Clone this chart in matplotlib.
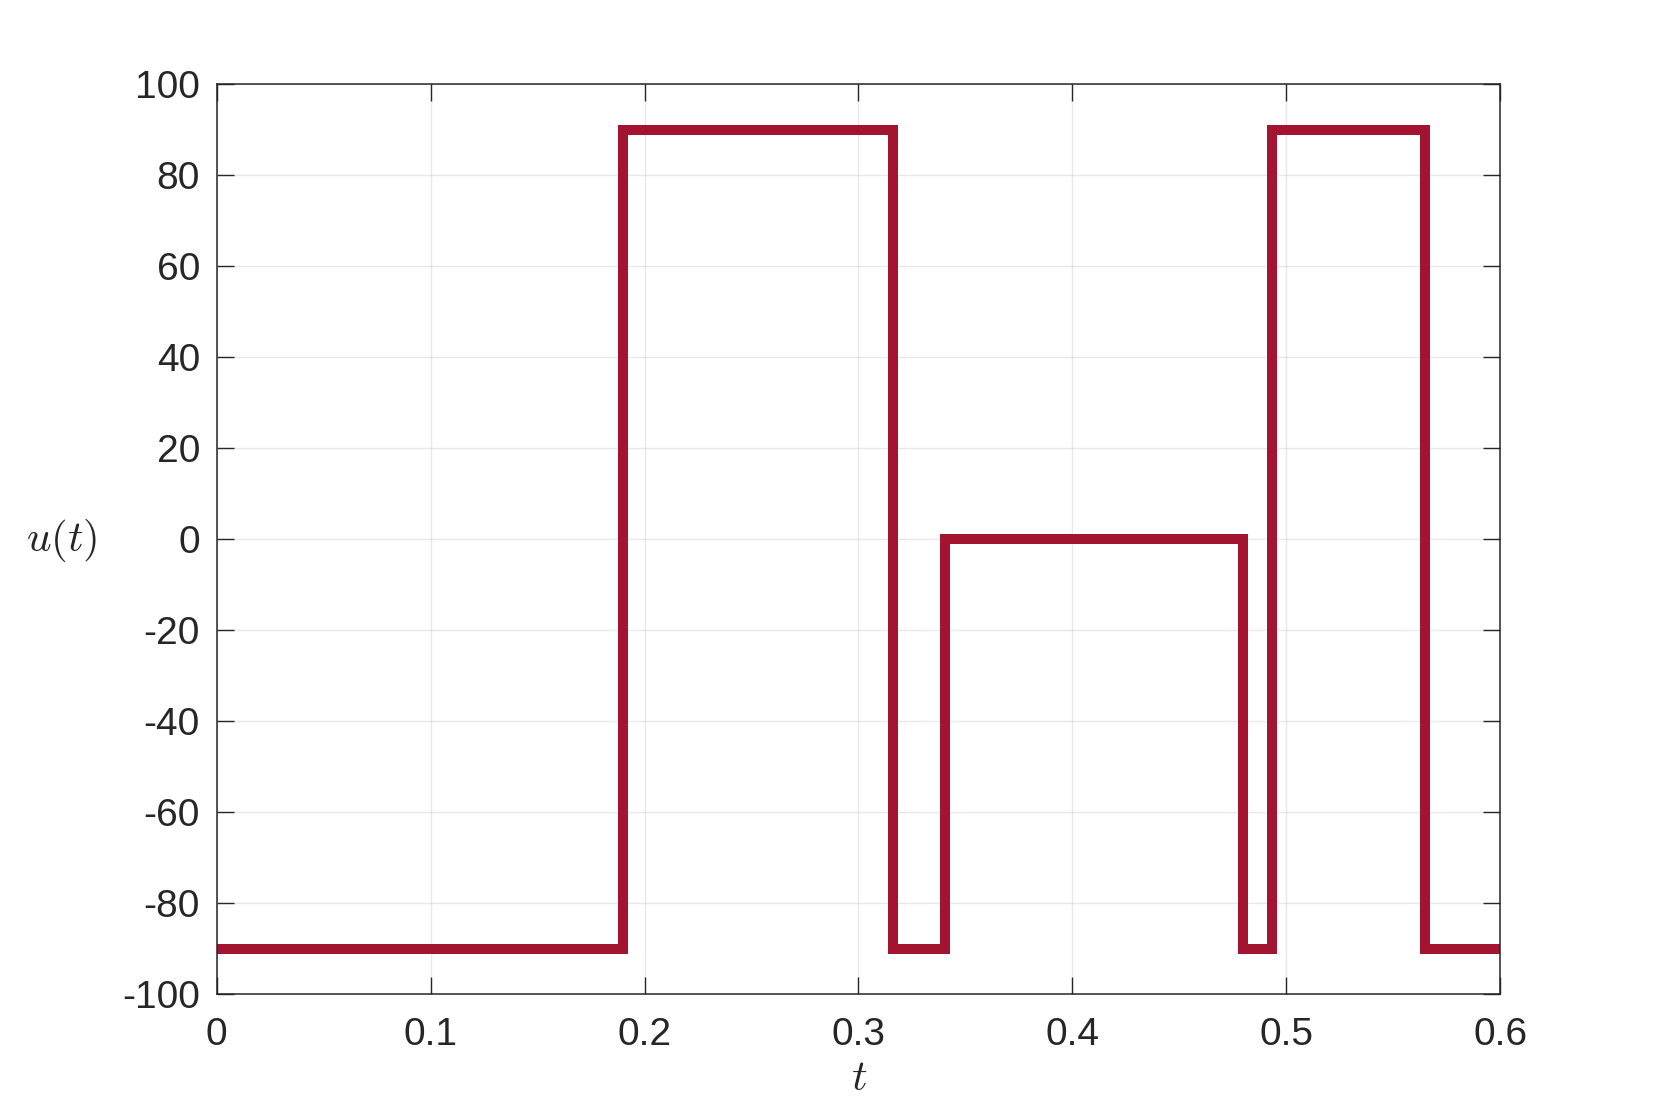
import numpy as np
import matplotlib.pyplot as plt

# switching times of the control signal and the level held between them
switch_times = [0.0, 0.1901, 0.3160, 0.3406, 0.4799, 0.4934, 0.5647, 0.6]
u_levels = [-90, 90, -90, 0, -90, 90, -90]

x_ticks = [0, 0.1, 0.2, 0.3, 0.4, 0.5, 0.6]
x_tick_labels = ['0', '0.1', '0.2', '0.3', '0.4', '0.5', '0.6']
y_ticks = list(range(-100, 101, 20))

plt.rcParams['font.family'] = ['Liberation Sans', 'DejaVu Sans']
plt.rcParams['mathtext.fontset'] = 'cm'
plt.rcParams['axes.unicode_minus'] = False

fig = plt.figure(figsize=(16.59, 11.19), dpi=100)
ax = fig.add_axes([0.1306, 0.1114, 0.7737, 0.8132])

ax.stairs(u_levels, switch_times, color='#A2142F', linewidth=7.2, baseline=None)

ax.set_xlim(0, 0.6)
ax.set_ylim(-100, 100)
ax.set_xticks(x_ticks)
ax.set_xticklabels(x_tick_labels)
ax.set_yticks(y_ticks)

# MATLAB-like look: box on, ticks inside, faint grid
ax.grid(True, color='#262626', alpha=0.1, linewidth=1.0)
ax.set_axisbelow(True)
ax.tick_params(direction='in', length=12, width=1.0, colors='#262626',
               labelsize=28, top=True, right=True)
ax.tick_params(axis='x', pad=16)
ax.tick_params(axis='y', pad=12)
for sp in ax.spines.values():
    sp.set_color('#262626')
    sp.set_linewidth(1.1)

fig.text(0.518, 0.036, '$t$', fontsize=31, color='#262626', ha='center', va='center')
fig.text(0.037, 0.517, '$u(t)$', fontsize=31, color='#262626', ha='center', va='center')

plt.savefig('out.png', dpi=100)
